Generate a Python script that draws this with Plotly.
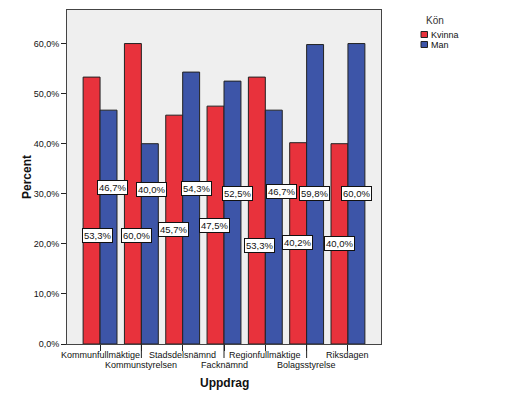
import plotly.graph_objects as go

categories = ["Kommunfullmäktige", "Kommunstyrelsen", "Stadsdelsnämnd", "Facknämnd",
              "Regionfullmäktige", "Bolagsstyrelse", "Riksdagen"]
kvinna = [53.3, 60.0, 45.7, 47.5, 53.3, 40.2, 40.0]
man = [46.7, 40.0, 54.3, 52.5, 46.7, 59.8, 60.0]
ytick_vals = [0, 10, 20, 30, 40, 50, 60]
ytick_text = ["0,0%", "10,0%", "20,0%", "30,0%", "40,0%", "50,0%", "60,0%"]

# label placement (layout only)
man_lbl_dx = [0.29, 0.25, 0.34, 0.33, 0.38, 0.20, 0.21]
man_lbl_y = [31.3, 30.8, 31.1, 30.1, 30.5, 30.1, 30.1]
kv_lbl_dx = [-0.07, -0.11, -0.22, -0.23, -0.13, -0.21, -0.20]
kv_lbl_y = [21.6, 21.6, 22.8, 23.6, 19.6, 20.2, 20.0]

RED = "#E8323C"
BLUE = "#3D55A8"
FONT = "Liberation Sans, Arial, sans-serif"

W, H = 510, 408
L, R, T, B = 67, 129, 10, 64
PW, PH = W - L - R, H - T - B


def px(x):
    return (x - L) / PW


def py(y):
    return (H - B - y) / PH


def fmt(v):
    return f"{v:.1f}%".replace(".", ",")


fig = go.Figure()
fig.add_trace(go.Bar(x=categories, y=kvinna, name="Kvinna", marker=dict(color=RED, line=dict(color="#222", width=1))))
fig.add_trace(go.Bar(x=categories, y=man, name="Man", marker=dict(color=BLUE, line=dict(color="#222", width=1))))

ann = []
for i in range(len(categories)):
    ann.append(dict(x=i + man_lbl_dx[i], y=man_lbl_y[i], xref="x", yref="y", text=fmt(man[i]),
                    xanchor="center", yanchor="middle",
                    showarrow=False, bgcolor="white", bordercolor="#111", borderwidth=1, borderpad=1,
                    font=dict(family=FONT, size=9.5, color="#111")))
    ann.append(dict(x=i + kv_lbl_dx[i], y=kv_lbl_y[i], xref="x", yref="y", text=fmt(kvinna[i]),
                    xanchor="center", yanchor="middle",
                    showarrow=False, bgcolor="white", bordercolor="#111", borderwidth=1, borderpad=1,
                    font=dict(family=FONT, size=9.5, color="#111")))
    # category tick labels, two staggered rows
    ann.append(dict(x=i, y=py(355 if i % 2 == 0 else 365), xref="x", yref="paper", text=categories[i],
                    xanchor="center", yanchor="middle", showarrow=False,
                    font=dict(family=FONT, size=9, color="#111")))

ann.append(dict(x=px(27), y=py(177), xref="paper", yref="paper", text="<b>Percent</b>", textangle=-90,
                xanchor="center", yanchor="middle",
                showarrow=False, font=dict(family=FONT, size=12, color="#111")))
ann.append(dict(x=px(224), y=py(383), xref="paper", yref="paper", text="<b>Uppdrag</b>",
                xanchor="center", yanchor="middle",
                showarrow=False, font=dict(family=FONT, size=12, color="#111")))
# legend
ann.append(dict(x=px(435), y=py(21), xref="paper", yref="paper", text="Kön", showarrow=False,
                xanchor="center", yanchor="middle",
                font=dict(family=FONT, size=10, color="#333")))
ann.append(dict(x=px(428.5), y=py(34.5), xref="paper", yref="paper", text="Kvinna", showarrow=False,
                xanchor="left", yanchor="middle", font=dict(family=FONT, size=9, color="#111")))
ann.append(dict(x=px(428.5), y=py(44.5), xref="paper", yref="paper", text="Man", showarrow=False,
                xanchor="left", yanchor="middle", font=dict(family=FONT, size=9, color="#111")))

shapes = [
    dict(type="rect", xref="paper", yref="paper", x0=px(421), x1=px(427.5), y0=py(37.5), y1=py(31.5),
         fillcolor=RED, line=dict(color="#222", width=1)),
    dict(type="rect", xref="paper", yref="paper", x0=px(421), x1=px(427.5), y0=py(47.5), y1=py(41.5),
         fillcolor=BLUE, line=dict(color="#222", width=1)),
]
for i in range(1, len(categories), 2):
    shapes.append(dict(type="line", xref="x", yref="paper", x0=i, x1=i, y0=0, y1=-14 / PH,
                       line=dict(color="#222", width=1)))

fig.update_layout(
    width=W, height=H,
    margin=dict(l=L, r=R, t=T, b=B),
    paper_bgcolor="white",
    plot_bgcolor="#EFEFEF",
    barmode="group", bargap=0.18, bargroupgap=0,
    showlegend=False,
    font=dict(family=FONT, size=9, color="#111"),
    annotations=ann,
    shapes=shapes,
    xaxis=dict(range=[-0.8, 6.8], tickmode="array", tickvals=categories, showticklabels=False,
               ticks="outside", ticklen=6, tickcolor="#222", showline=True, mirror=True,
               linecolor="#444", linewidth=1, showgrid=False),
    yaxis=dict(range=[0, 66.7], tickmode="array", tickvals=ytick_vals, ticktext=ytick_text,
               ticks="outside", ticklen=5, tickcolor="#222", showline=True, mirror=True,
               linecolor="#444", linewidth=1, showgrid=False, zeroline=False, tickfont=dict(size=9)),
)

fig.write_html("out.html")
